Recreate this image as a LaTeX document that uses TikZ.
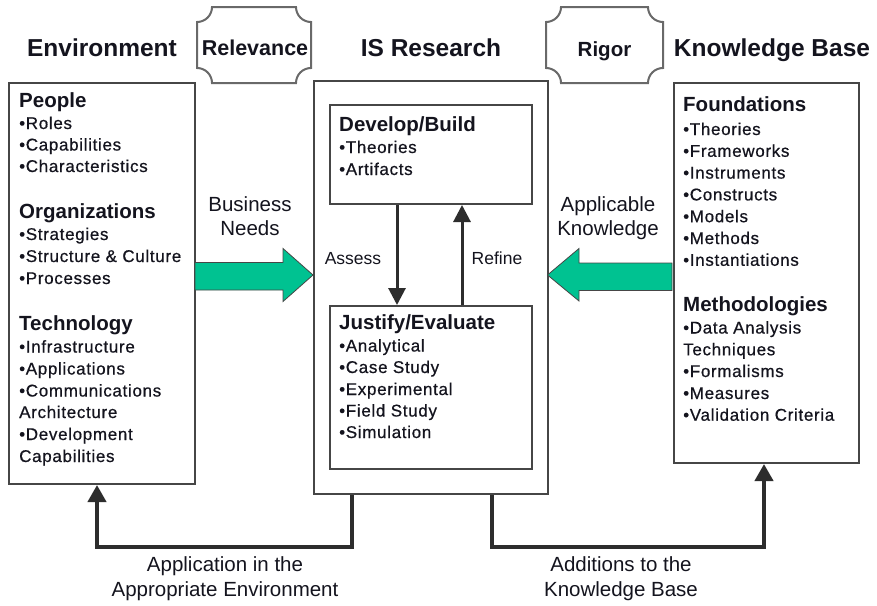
\documentclass[tikz,border=0pt]{standalone}
\usepackage{fontspec}
\setmainfont{Liberation Sans}
\newfontfamily\itemfam[LetterSpace=4,FakeBold=0.6]{Liberation Sans}
\usetikzlibrary{arrows.meta}
\definecolor{boxgray}{RGB}{70,70,70}
\definecolor{linegray}{RGB}{45,45,45}
\definecolor{plaquegray}{RGB}{105,105,105}
\definecolor{txt}{RGB}{20,20,30}
\definecolor{teal}{RGB}{0,194,145}
\newcommand{\itm}[4]{\node[item] (#1) at (#2,#3) {#4};}
\newcommand{\hdg}[4]{\node[head] (#1) at (#2,#3) {#4};}
\begin{document}
\begin{tikzpicture}[x=1pt,y=-1pt,
  box/.style={draw=boxgray,line width=2pt,fill=none,inner sep=0pt,anchor=north west},
  title/.style={font=\fontsize{24.5}{28}\selectfont\bfseries,anchor=base,inner sep=0pt,text=txt},
  head/.style={font=\fontsize{20.5}{24}\selectfont\bfseries,anchor=base west,inner sep=0pt,text=txt},
  item/.style={font=\itemfam\fontsize{17}{20}\selectfont,anchor=base west,inner sep=0pt,text=txt},
  lbl/.style={font=\fontsize{20.5}{24}\selectfont,anchor=base,inner sep=0pt,text=txt},
  slbl/.style={font=\fontsize{17.5}{20}\selectfont,anchor=base,inner sep=0pt,text=txt},
  flow/.style={line width=4pt,draw=linegray,line join=miter,-{Triangle[width=18pt,length=17pt]}},
  midflow/.style={line width=3pt,draw=linegray,-{Triangle[width=17pt,length=17pt]}},
  fat/.style={fill=teal,draw=boxgray,line width=0.8pt,line join=miter},
  plaque/.style={draw=plaquegray,line width=2pt,fill=white}]
\useasboundingbox (0,0) rectangle (877,605);
\fill[white] (0,0) rectangle (877,605);

% titles
\node[title] (tenv) at (102,56) {Environment};
\node[title] (tisr) at (431,56) {IS Research};
\node[title] (tkb)  at (772,56) {Knowledge Base};

% plaques
\draw[plaque] (212,7) -- (296,7) .. controls (296,15.3) and (302.7,22) .. (311,22)
  -- (311,68) .. controls (302.7,68) and (296,74.7) .. (296,83)
  -- (212,83) .. controls (212,74.7) and (205.3,68) .. (197,68)
  -- (197,22) .. controls (205.3,22) and (212,15.3) .. (212,7) -- cycle;
\node[head,anchor=base,font=\fontsize{21.5}{24}\selectfont\bfseries] (rel) at (255,55) {Relevance};
\draw[plaque] (561,7) -- (648,7) .. controls (648,15.3) and (654.7,22) .. (663,22)
  -- (663,68) .. controls (654.7,68) and (648,74.7) .. (648,83)
  -- (561,83) .. controls (561,74.7) and (554.3,68) .. (546,68)
  -- (546,22) .. controls (554.3,22) and (561,15.3) .. (561,7) -- cycle;
\node[head,anchor=base] (rig) at (604.5,56) {Rigor};

% boxes
\node[box,minimum width=186pt,minimum height=401pt] (env) at (8,82) {};
\node[box,minimum width=234pt,minimum height=413pt] (isr) at (313,80) {};
\node[box,minimum width=185pt,minimum height=380pt] (kb) at (673,82) {};
\node[box,minimum width=202pt,minimum height=99pt] (dev) at (329,104) {};
\node[box,minimum width=202pt,minimum height=163pt] (jus) at (329,305) {};

% environment text
\hdg{hp}{19}{107}{People}
\itm{i1}{19}{129}{•Roles}
\itm{i2}{19}{150.5}{•Capabilities}
\itm{i3}{19}{172}{•Characteristics}
\hdg{ho}{19}{218}{Organizations}
\itm{i4}{19}{240}{•Strategies}
\itm{i5}{19}{262}{•Structure \& Culture}
\itm{i6}{19}{284}{•Processes}
\hdg{ht}{19}{330}{Technology}
\itm{i7}{19}{352.5}{•Infrastructure}
\itm{i8}{19}{374.5}{•Applications}
\itm{i9}{19}{396.5}{•Communications}
\itm{i10}{19}{418}{Architecture}
\itm{i11}{19}{440}{•Development}
\itm{i12}{19}{462}{Capabilities}

% IS research text
\hdg{hd}{339}{131.5}{Develop/Build}
\itm{d1}{339}{153}{•Theories}
\itm{d2}{339}{175}{•Artifacts}
\hdg{hj}{339}{329}{Justify/Evaluate}
\itm{j1}{339}{351.5}{•Analytical}
\itm{j2}{339}{373}{•Case Study}
\itm{j3}{339}{395}{•Experimental}
\itm{j4}{339}{416.5}{•Field Study}
\itm{j5}{339}{438}{•Simulation}

% knowledge base text
\hdg{hf}{683}{111.5}{Foundations}
\itm{k1}{683}{135}{•Theories}
\itm{k2}{683}{156.8}{•Frameworks}
\itm{k3}{683}{178.6}{•Instruments}
\itm{k4}{683}{200.4}{•Constructs}
\itm{k5}{683}{222.2}{•Models}
\itm{k6}{683}{244}{•Methods}
\itm{k7}{683}{265.8}{•Instantiations}
\hdg{hm}{683}{311.5}{Methodologies}
\itm{m1}{683}{333.5}{•Data Analysis}
\itm{m2}{683}{355.3}{Techniques}
\itm{m3}{683}{377}{•Formalisms}
\itm{m4}{683}{399}{•Measures}
\itm{m5}{683}{420.7}{•Validation Criteria}

% fat arrows
\draw[fat] (195,262.5) -- (283,262.5) -- (283,248.5) -- (313,275) -- (283,301.5) -- (283,290) -- (195,290) -- cycle;
\draw[fat] (672,263) -- (579,263) -- (579,248.5) -- (547.5,275) -- (579,301) -- (579,290.5) -- (672,290.5) -- cycle;
\node[lbl] (bn1) at (250,211.5) {Business};
\node[lbl] (bn2) at (250,235) {Needs};
\node[lbl] (ak1) at (608,211.5) {Applicable};
\node[lbl] (ak2) at (608,235) {Knowledge};

% assess / refine
\coordinate (dx) at (397,0);
\coordinate (ux) at (462,0);
\draw[midflow] (dev.south -| dx) -- (jus.north -| dx);
\draw[midflow] (jus.north -| ux) -- (dev.south -| ux);
\node[slbl] (as) at (353,264) {Assess};
\node[slbl] (rf) at (497,264) {Refine};

% bottom loops
\coordinate (lb) at (97,547);
\coordinate (rb) at (764,547);
\coordinate (lx) at (352,0);
\coordinate (rx) at (492,0);
\draw[flow] (isr.south -| lx) |- (lb) -- (env.south -| lb);
\draw[flow] (isr.south -| rx) |- (rb) -- (kb.south -| rb);
\node[lbl] (ap1) at (225,571.5) {Application in the};
\node[lbl] (ap2) at (225,596.5) {Appropriate Environment};
\node[lbl] (ad1) at (621,571.5) {Additions to the};
\node[lbl] (ad2) at (621,596.5) {Knowledge Base};
\end{tikzpicture}
\end{document}
